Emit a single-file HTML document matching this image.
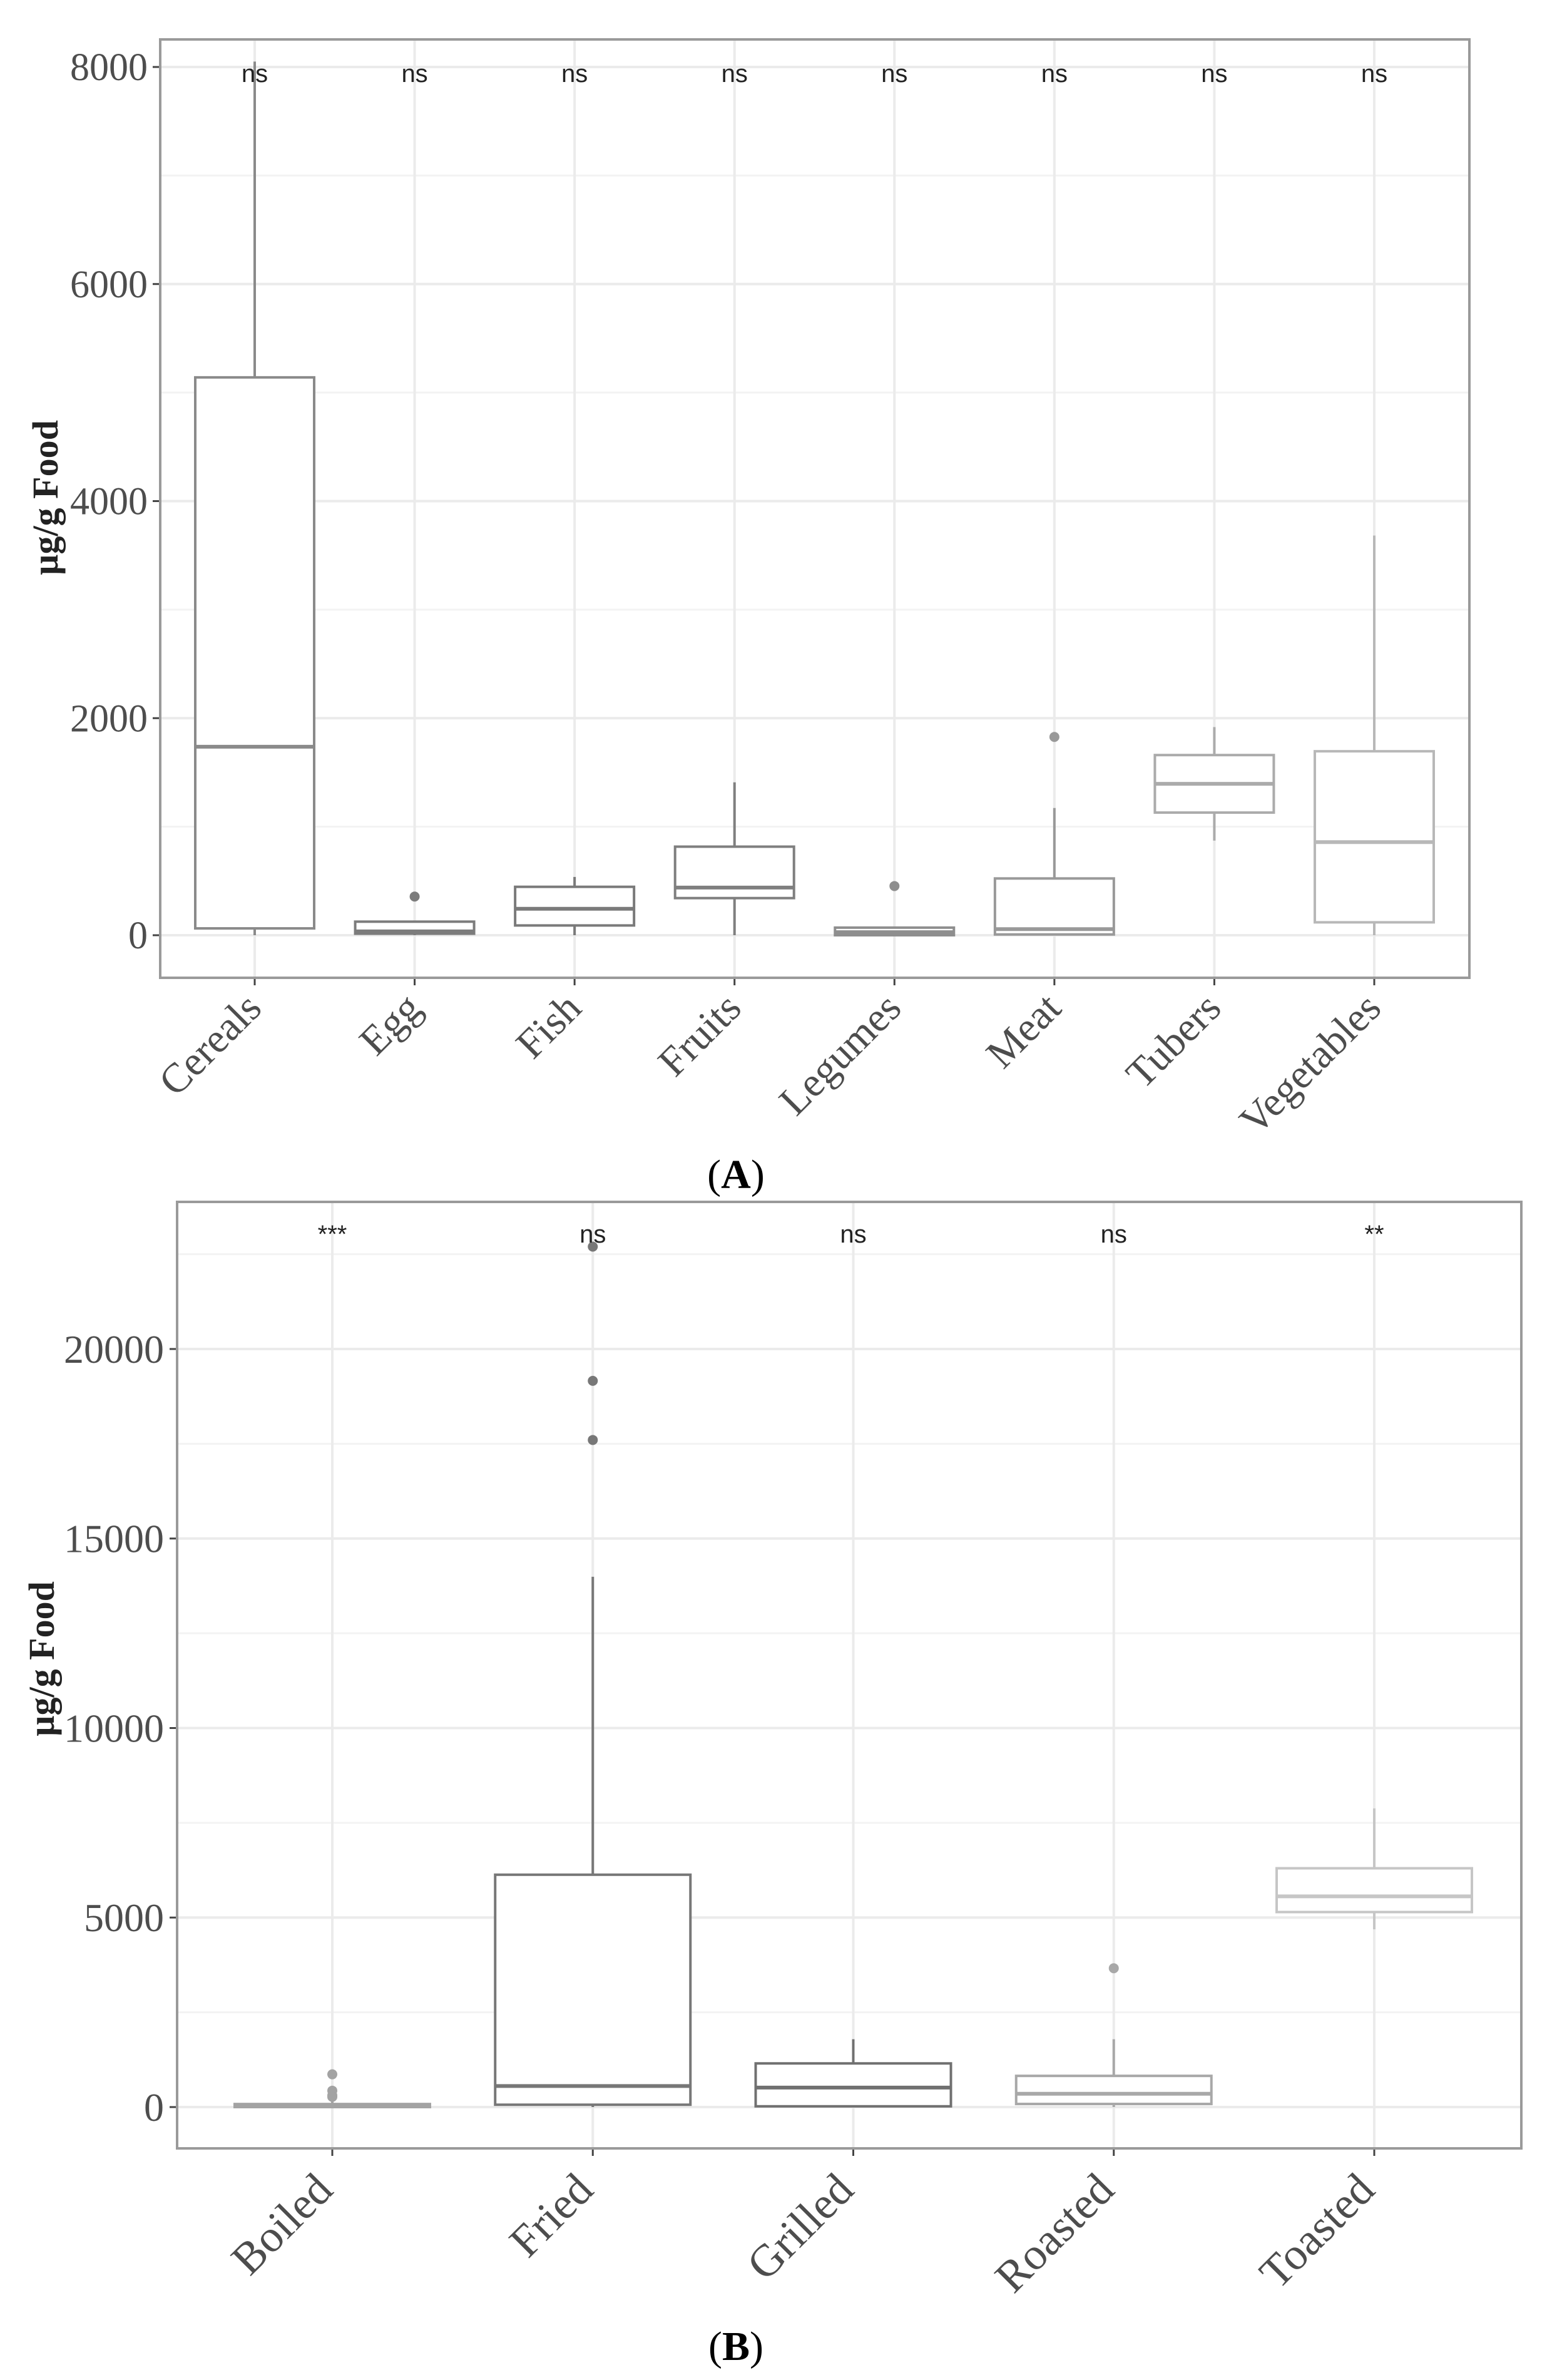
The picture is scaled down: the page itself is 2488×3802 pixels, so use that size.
<!DOCTYPE html>
<html><head><meta charset="utf-8"><style>
html,body{margin:0;padding:0;background:#fff}
svg{display:block}
text{font-family:"Liberation Serif",serif}
.sig{font-family:"Liberation Sans",sans-serif;font-size:40px;fill:#222}
</style></head><body>
<svg id="fig" width="2488" height="3802" viewBox="0 0 2488 3802" xmlns="http://www.w3.org/2000/svg"></svg>
<script>
// Panel A data
const catsA = ["Cereals","Egg","Fish","Fruits","Legumes","Meat","Tubers","Vegetables"];
const loA   = [0, 0, 0, 0, 0, 0, 872, 0];
const q1A   = [63, 14, 90, 342, 0, 7, 1130, 119];
const medA  = [1737, 35, 244, 439, 28, 56, 1395, 858];
const q3A   = [5140, 125, 446, 816, 70, 523, 1660, 1695];
const hiA   = [8050, 125, 537, 1409, 70, 1172, 1918, 3683];
const outA  = [[], [356], [], [], [453], [1827], [], []];
const sigA  = ["ns","ns","ns","ns","ns","ns","ns","ns"];
const ticksA = [0, 2000, 4000, 6000, 8000];
// Panel B data
const catsB = ["Boiled","Fried","Grilled","Roasted","Toasted"];
const loB   = [0, 0, 0, 0, 4690];
const q1B   = [0, 62, 20, 82, 5145];
const medB  = [30, 556, 514, 350, 5560];
const q3B   = [80, 6130, 1152, 823, 6300];
const hiB   = [150, 13990, 1790, 1790, 7880];
const outB  = [[864, 432, 309, 268], [22700, 19160, 17600], [], [3663], []];
const sigB  = ["***","ns","ns","ns","**"];
const ticksB = [0, 5000, 10000, 15000, 20000];

const NS = "http://www.w3.org/2000/svg";
const svg = document.getElementById('fig');
function el(tag, attrs, parent, txt){
  const e = document.createElementNS(NS, tag);
  for (const k in attrs) e.setAttribute(k, attrs[k]);
  if (txt !== undefined) e.textContent = txt;
  (parent || svg).appendChild(e);
  return e;
}

function panel(cfg){
  const g = el('g', {});
  
  
  const L=cfg.L, R=cfg.R, T=cfg.T, B=cfg.B;
  const y = v => cfg.y0 - v * cfg.pxPerUnit;
  const x = i => cfg.x0 + i * cfg.step;
  for (let i = 0; i < cfg.ticks.length; i++) {
    const v = cfg.ticks[i] + (cfg.ticks[1]-cfg.ticks[0])/2;
    if (y(v) > T) {
      const ln = el('line', {x1:L, x2:R, y1:y(v), y2:y(v), stroke:'#f3f3f3', 'stroke-width':3}, g);
      
      
    }
  }
  cfg.ticks.forEach(v => {
    const ln = el('line', {x1:L, x2:R, y1:y(v), y2:y(v), stroke:'#ebebeb', 'stroke-width':4}, g);
    
    
    const tk = el('line', {x1:L-12, x2:L, y1:y(v), y2:y(v), stroke:'#444', 'stroke-width':3}, g);
    
    
    const t = el('text', {x:cfg.labelRight, y:y(v)+cfg.tickFont*0.34, 'text-anchor':'end', 'font-size':cfg.tickFont, fill:'#4d4d4d'}, g, String(v));
    
    
  });
  cfg.cats.forEach((c, i) => {
    const ln = el('line', {x1:x(i), x2:x(i), y1:T, y2:B, stroke:'#ebebeb', 'stroke-width':4}, g);
    
    
  });
  cfg.cats.forEach((c, i) => {
    const col = cfg.colors[i];
    const bg = el('g', {}, g);
    
    
    const cx = x(i), hw = cfg.hw;
    el('line', {x1:cx, x2:cx, y1:y(cfg.hi[i]), y2:y(cfg.q3[i]), stroke:col, 'stroke-width':4}, bg);
    el('line', {x1:cx, x2:cx, y1:y(cfg.q1[i]), y2:y(cfg.lo[i]), stroke:col, 'stroke-width':4}, bg);
    el('rect', {x:cx-hw, y:y(cfg.q3[i]), width:2*hw, height:Math.max(y(cfg.q1[i])-y(cfg.q3[i]),2), fill:'#fff', stroke:col, 'stroke-width':4}, bg);
    el('line', {x1:cx-hw, x2:cx+hw, y1:y(cfg.med[i]), y2:y(cfg.med[i]), stroke:col, 'stroke-width':6}, bg);
    cfg.out[i].forEach(v => {
      const p = el('circle', {cx:cx, cy:y(v), r:8, fill:col}, bg);
      
      
    });
    const s = el('text', {x:cx, y:cfg.sigY, 'text-anchor':'middle', class:'sig'}, g, cfg.sig[i]);
    
    
    const tk = el('line', {x1:cx, x2:cx, y1:B, y2:B+12, stroke:'#444', 'stroke-width':3}, g);
    
    
    const ax = cx + cfg.lblDx, ay = B + cfg.lblDy;
    const t = el('text', {x:ax, y:ay, 'text-anchor':'end', 'font-size':cfg.xFont, fill:'#4d4d4d', transform:`rotate(-45 ${ax} ${ay})`}, g, c);
    
    
  });
  const fr = el('rect', {x:L, y:T, width:R-L, height:B-T, fill:'none', stroke:'#9a9a9a', 'stroke-width':4}, g);
  
  
  const yt = el('text', {x:cfg.ytX, y:cfg.ytY, 'text-anchor':'middle', 'font-size':58, 'font-weight':'bold', fill:'#222', transform:`rotate(-90 ${cfg.ytX} ${cfg.ytY})`}, g, 'µg/g Food');
  
  
  const pl = el('text', {x:1176, y:cfg.panelY, 'text-anchor':'middle', 'font-size':66, fill:'#000'}, g);
  
  
  el('tspan', {}, pl, '(');
  el('tspan', {'font-weight':'bold'}, pl, cfg.letter);
  el('tspan', {}, pl, ')');
}

panel({name:'panel-a-food-group-chart', L:256, R:2348, T:63, B:1562,
  y0:1494, pxPerUnit:(1494-107)/8000, x0:407, step:(2196-407)/7, hw:95,
  cats:catsA, lo:loA, q1:q1A, med:medA, q3:q3A, hi:hiA, out:outA, sig:sigA, ticks:ticksA,
  colors:['#8a8a8a','#7c7c7c','#7a7a7a','#7f7f7f','#8e8e8e','#999999','#ababab','#b8b8b8'],
  labelRight:236, tickFont:62, sigY:131, lblDx:14, lblDy:52, xFont:66,
  ytX:92, ytY:795, panelY:1898, letter:'A'});

panel({name:'panel-b-cooking-method-chart', L:283, R:2431, T:1920, B:3432,
  y0:3366, pxPerUnit:(3366-2155)/20000, x0:531, step:(2196-531)/4, hw:156,
  cats:catsB, lo:loB, q1:q1B, med:medB, q3:q3B, hi:hiB, out:outB, sig:sigB, ticks:ticksB,
  colors:['#a3a3a3','#777777','#707070','#a8a8a8','#c6c6c6'],
  labelRight:262, tickFont:64, sigY:1985, lblDx:4, lblDy:70, xFont:72,
  ytX:86, ytY:2650, panelY:3770, letter:'B'});
</script>
</body></html>
